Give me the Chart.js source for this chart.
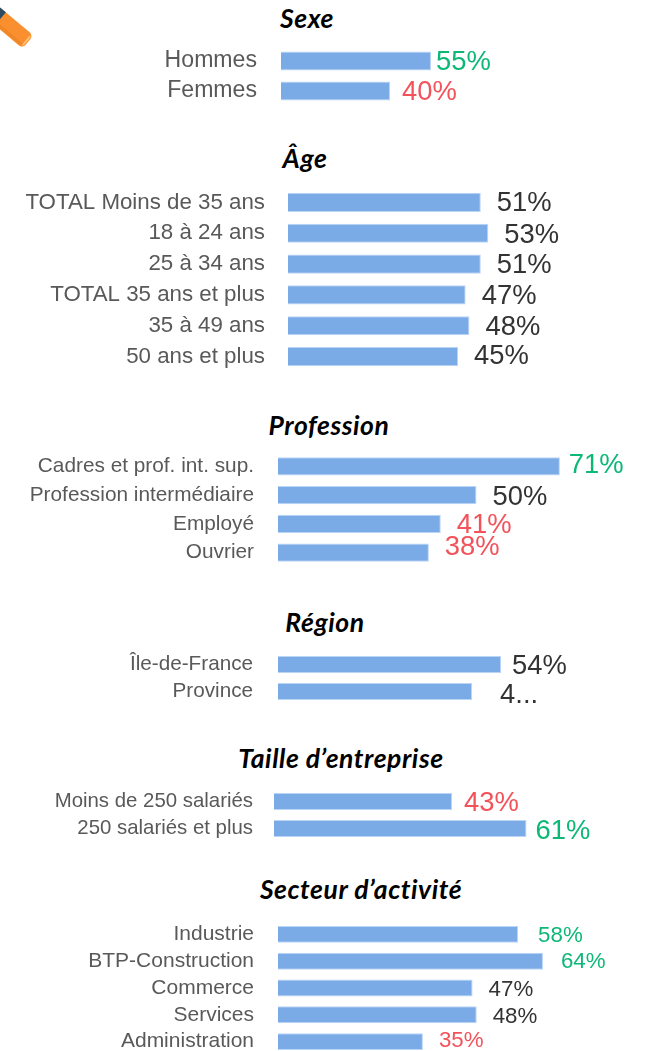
<!DOCTYPE html>
<html lang="fr"><head><meta charset="utf-8">
<script src="https://cdn.jsdelivr.net/npm/chart.js@4"></script>
<style>
html,body{margin:0;padding:0;background:#fff;width:651px;height:1051px;overflow:hidden}
#page{position:relative;width:651px;height:1051px}
canvas{position:absolute;left:0}
.t{position:absolute;transform:translateX(-50%);font:italic 700 26.5px Lato,sans-serif;letter-spacing:.55px;color:#000;white-space:nowrap;line-height:30px}
svg{position:absolute;left:0;top:0}
</style></head><body><div id="page">
<svg width="40" height="52" viewBox="0 0 40 52">
<g transform="translate(28 42) rotate(40)"><rect x="-50" y="-8.5" width="50" height="17" rx="5" fill="#F98F2E"/><rect x="-50" y="4.5" width="46" height="3" fill="#E8801F" opacity=".5"/><rect x="-3" y="-6" width="2" height="12" rx="1" fill="#FFC070"/><rect x="-50" y="-8.5" width="14" height="17" fill="#2F4A63"/></g>
</svg>
</div>
<script>
const GREEN='#0DB877',RED='#F2525A',DARK='#333333';
const sexeLabels=['Hommes','Femmes'];
const sexeValues=[55,40];
const sexeText=['55%','40%'];
const sexeColors=[GREEN,RED];
const ageLabels=['TOTAL Moins de 35 ans','18 à 24 ans','25 à 34 ans','TOTAL 35 ans et plus','35 à 49 ans','50 ans et plus'];
const ageValues=[51,53,51,47,48,45];
const ageText=['51%','53%','51%','47%','48%','45%'];
const ageColors=[DARK,DARK,DARK,DARK,DARK,DARK];
const profLabels=['Cadres et prof. int. sup.','Profession intermédiaire','Employé','Ouvrier'];
const profValues=[71,50,41,38];
const profText=['71%','50%','41%','38%'];
const profColors=[GREEN,DARK,RED,RED];
const regionLabels=['Île-de-France','Province'];
const regionValues=[54,47];
const regionText=['54%','4...'];
const regionColors=[DARK,DARK];
const tailleLabels=['Moins de 250 salariés','250 salariés et plus'];
const tailleValues=[43,61];
const tailleText=['43%','61%'];
const tailleColors=[RED,GREEN];
const secteurLabels=['Industrie','BTP-Construction','Commerce','Services','Administration'];
const secteurValues=[58,64,47,48,35];
const secteurText=['58%','64%','47%','48%','35%'];
const secteurColors=[GREEN,GREEN,DARK,DARK,RED];

const valueLabels={id:'valueLabels',afterDatasetsDraw(c,_,o){
  const g=c.ctx,m=c.getDatasetMeta(0);
  g.save();g.textBaseline='middle';g.textAlign='left';g.font=o.size+'px "Liberation Sans"';
  m.data.forEach((b,i)=>{g.fillStyle=o.colors[i];g.fillText(o.text[i],b.x+o.dx[i],b.y+o.dy[i]);});
  g.restore();}};
Chart.register(valueLabels);

function panel(p){
  const cv=document.createElement('canvas');
  const n=p.labels.length,h=Math.round(p.pitch*n);
  cv.style.top=(p.top)+'px';
  document.getElementById('page').appendChild(cv);
  cv.width=651;cv.height=h;cv.style.width='651px';cv.style.height=h+'px';
  new Chart(cv,{type:'bar',data:{labels:p.labels,datasets:[{data:p.values,backgroundColor:'#7BABE7',borderColor:'#BBD5F4',borderWidth:1,categoryPercentage:1,barPercentage:p.bar}]},
   options:{indexAxis:'y',responsive:false,animation:false,layout:{padding:0},
    plugins:{legend:{display:false},tooltip:{enabled:false},
     valueLabels:{text:p.text,colors:p.colors,dx:p.dx,dy:p.dy,size:p.vsize}},
    scales:{x:{display:false,min:0,max:(651-p.x0)/p.ppp},
     y:{grid:{display:false,drawTicks:false},border:{display:false},
       afterFit(s){s.width=p.x0;s.paddingTop=0;s.paddingBottom=0;},
       ticks:{color:'#595959',padding:p.pad,autoSkip:false,font:{family:'"Liberation Sans"',size:p.size}}}}}});
  const t=document.createElement('div');t.className='t';t.textContent=p.title;
  t.style.left=p.tx+'px';t.style.top=p.ty+'px';document.getElementById('page').appendChild(t);
}
panel({title:'Sexe',tx:307,ty:2.5,labels:sexeLabels,values:sexeValues,text:sexeText,colors:sexeColors,top:46,pitch:30,bar:.63,x0:281,ppp:2.727,pad:24,size:23.1,vsize:27.4,dx:[5,12],dy:[1,1]});
panel({title:'Âge',tx:305,ty:142.5,labels:ageLabels,values:ageValues,text:ageText,colors:ageColors,top:187,pitch:30.8,bar:.62,x0:288,ppp:3.78,pad:23,size:22.3,vsize:27.4,dx:[16,16,16,16,16,16],dy:[1,2,1,2,2,0]});
panel({title:'Profession',tx:329,ty:410,labels:profLabels,values:profValues,text:profText,colors:profColors,top:452,pitch:28.7,bar:.63,x0:278,ppp:3.97,pad:24,size:20.8,vsize:27.4,dx:[9,16,16,16],dy:[-1,2,2,-5]});
panel({title:'Région',tx:325,ty:607,labels:regionLabels,values:regionValues,text:regionText,colors:regionColors,top:650.5,pitch:27,bar:.63,x0:278,ppp:4.13,pad:25,size:20.7,vsize:27.4,dx:[11,28],dy:[2,4]});
panel({title:'Taille d’entreprise',tx:341,ty:742.5,labels:tailleLabels,values:tailleValues,text:tailleText,colors:tailleColors,top:787.5,pitch:27,bar:.63,x0:274,ppp:4.14,pad:21,size:20.4,vsize:27.4,dx:[12,9],dy:[2,3]});
panel({title:'Secteur d’activité',tx:361,ty:874,labels:secteurLabels,values:secteurValues,text:secteurText,colors:secteurColors,top:921,pitch:26.75,bar:.63,x0:278,ppp:4.14,pad:24,size:21,vsize:22.3,dx:[20,18,16,16,16],dy:[1,1,2,2,-1]});
</script></body></html>
